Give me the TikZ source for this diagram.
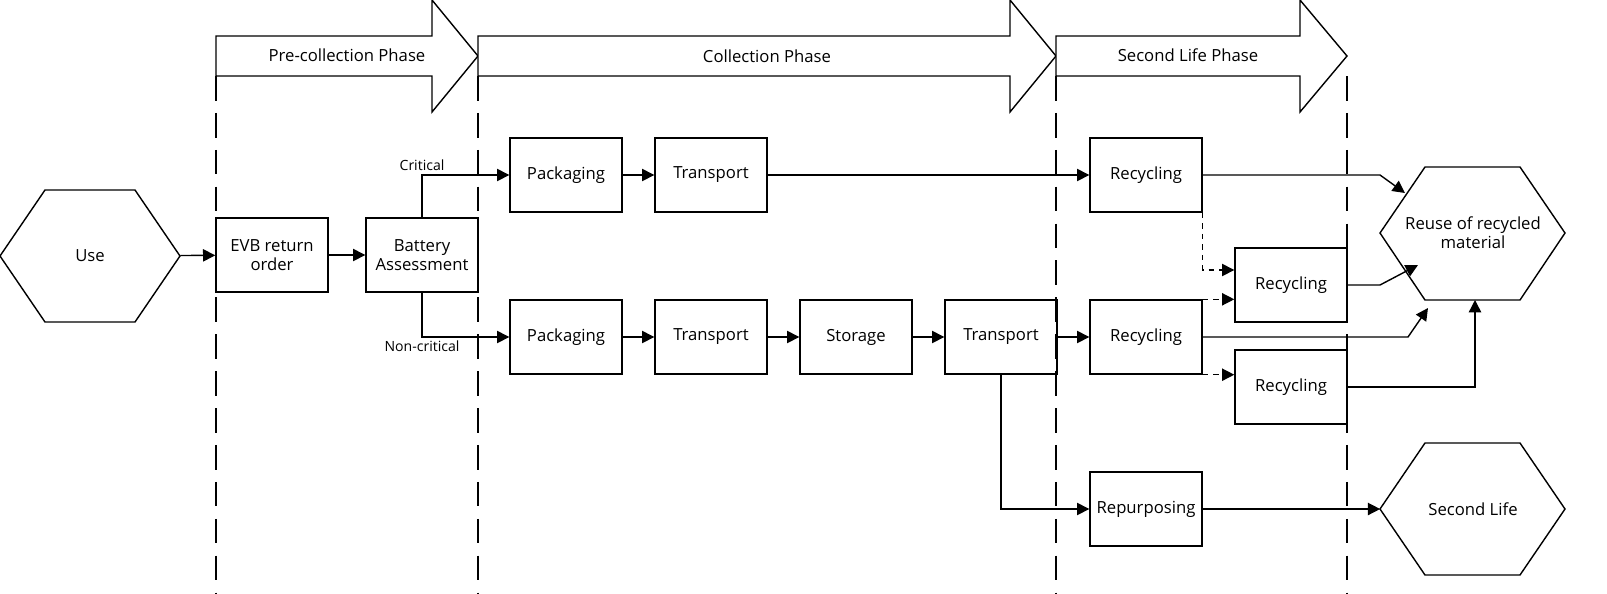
\documentclass[tikz,border=0pt]{standalone}
\usepackage{fontspec}
\setmainfont{Open Sans}
\usetikzlibrary{arrows.meta}

\begin{document}
\begin{tikzpicture}[x=0.02cm,y=-0.02cm,
    font=\fontsize{9.5}{11}\selectfont,
    box/.style={draw,thick,minimum width=2.24cm,minimum height=1.48cm,align=center,inner sep=1pt},
    hexa/.style={align=center,inner sep=0pt,minimum width=3.7cm,minimum height=2.66cm},
    small/.style={font=\fontsize{8}{9}\selectfont,inner sep=2pt},
    flow/.style={thick,-{Triangle[length=7pt,width=7pt]}},
    alt/.style={flow,dashed},
    phase/.style={draw,thick,fill=white}]
    \useasboundingbox (0,0) rectangle (1607,593);
    % phases
    \draw[phase] (216,36) -- (432,36) -- (432,0) -- (478,56) -- (432,112) -- (432,76) -- (216,76) -- cycle;
    \draw[phase] (478,36) -- (1010,36) -- (1010,0) -- (1056,56) -- (1010,112) -- (1010,76) -- (478,76) -- cycle;
    \draw[phase] (1056,36) -- (1300,36) -- (1300,0) -- (1347,56) -- (1300,112) -- (1300,76) -- (1056,76) -- cycle;
    \node at (347,55) {Pre-collection Phase};
    \node at (767,56) {Collection Phase};
    \node at (1188,55) {Second Life Phase};
    \foreach \xx in {216,478,1056,1347}
      \draw[thick,dash pattern=on 14pt off 7pt] (\xx,76) -- (\xx,593);
    % hexagons
    \draw[thick] (0,256) -- (45,190) -- (135,190) -- (180,256) -- (135,322) -- (45,322) -- cycle;
    \draw[thick] (1380,233) -- (1425,167) -- (1520,167) -- (1565,233) -- (1520,300) -- (1425,300) -- cycle;
    \draw[thick] (1380,509) -- (1425,443) -- (1520,443) -- (1565,509) -- (1520,575) -- (1425,575) -- cycle;
    % nodes
    \node[hexa,minimum width=3.6cm] (use) at (90,256) {Use};
    \node[box] (evb) at (272,255) {EVB return\\order};
    \node[box] (bat) at (422,255) {Battery\\Assessment};
    \node[box] (pack1) at (566,175) {Packaging};
    \node[box] (trans1) at (711,175) {Transport};
    \node[box] (rec1) at (1146,175) {Recycling};
    \node[box] (pack2) at (566,337) {Packaging};
    \node[box] (trans2) at (711,337) {Transport};
    \node[box] (stor) at (856,337) {Storage};
    \node[box] (trans3) at (1001,337) {Transport};
    \node[box] (rec2) at (1146,337) {Recycling};
    \node[box] (rec3) at (1291,285) {Recycling};
    \node[box] (rec4) at (1291,387) {Recycling};
    \node[box] (repur) at (1146,509) {Repurposing};
    \node[hexa] (reuse) at (1473,233) {Reuse of recycled\\material};
    \node[hexa] (sec) at (1473,509) {Second Life};
    \coordinate (in1) at (1405,193);
    \coordinate (in2) at (1418,265);
    \coordinate (in3) at (1428,308);
    % flows
    \draw[flow] (use) -- (evb);
    \draw[flow] (evb) -- (bat);
    \draw[flow] (bat.north) |- node[pos=0.5,above,small] {Critical} (pack1);
    \draw[flow] (bat.south) |- node[pos=0.5,below,small] {Non-critical} (pack2);
    \draw[flow] (pack1) -- (trans1);
    \draw[flow] (trans1) -- (rec1);
    \draw[flow] (pack2) -- (trans2);
    \draw[flow] (trans2) -- (stor);
    \draw[flow] (stor) -- (trans3);
    \draw[flow] (trans3) -- (rec2);
    \draw[flow] (trans3.south) |- (repur);
    \draw[flow] (repur) -- (sec.west);
    \draw[alt] (rec1.south east) |- (rec3.west |- 0,270);
    \draw[alt] (rec2.north east) -- (rec3.west |- rec2.north);
    \draw[alt] (rec2.south east) -- (rec4.west |- rec2.south);
    \draw[flow] (rec1.east) -- (1380,175) -- (in1);
    \draw[flow] (rec3.east) -- (1380,285) -- (in2);
    \draw[flow] (rec2.east) -- (1408,337) -- (in3);
    \draw[flow] (rec4.east) -| (1475,300);
\end{tikzpicture}
\end{document}
